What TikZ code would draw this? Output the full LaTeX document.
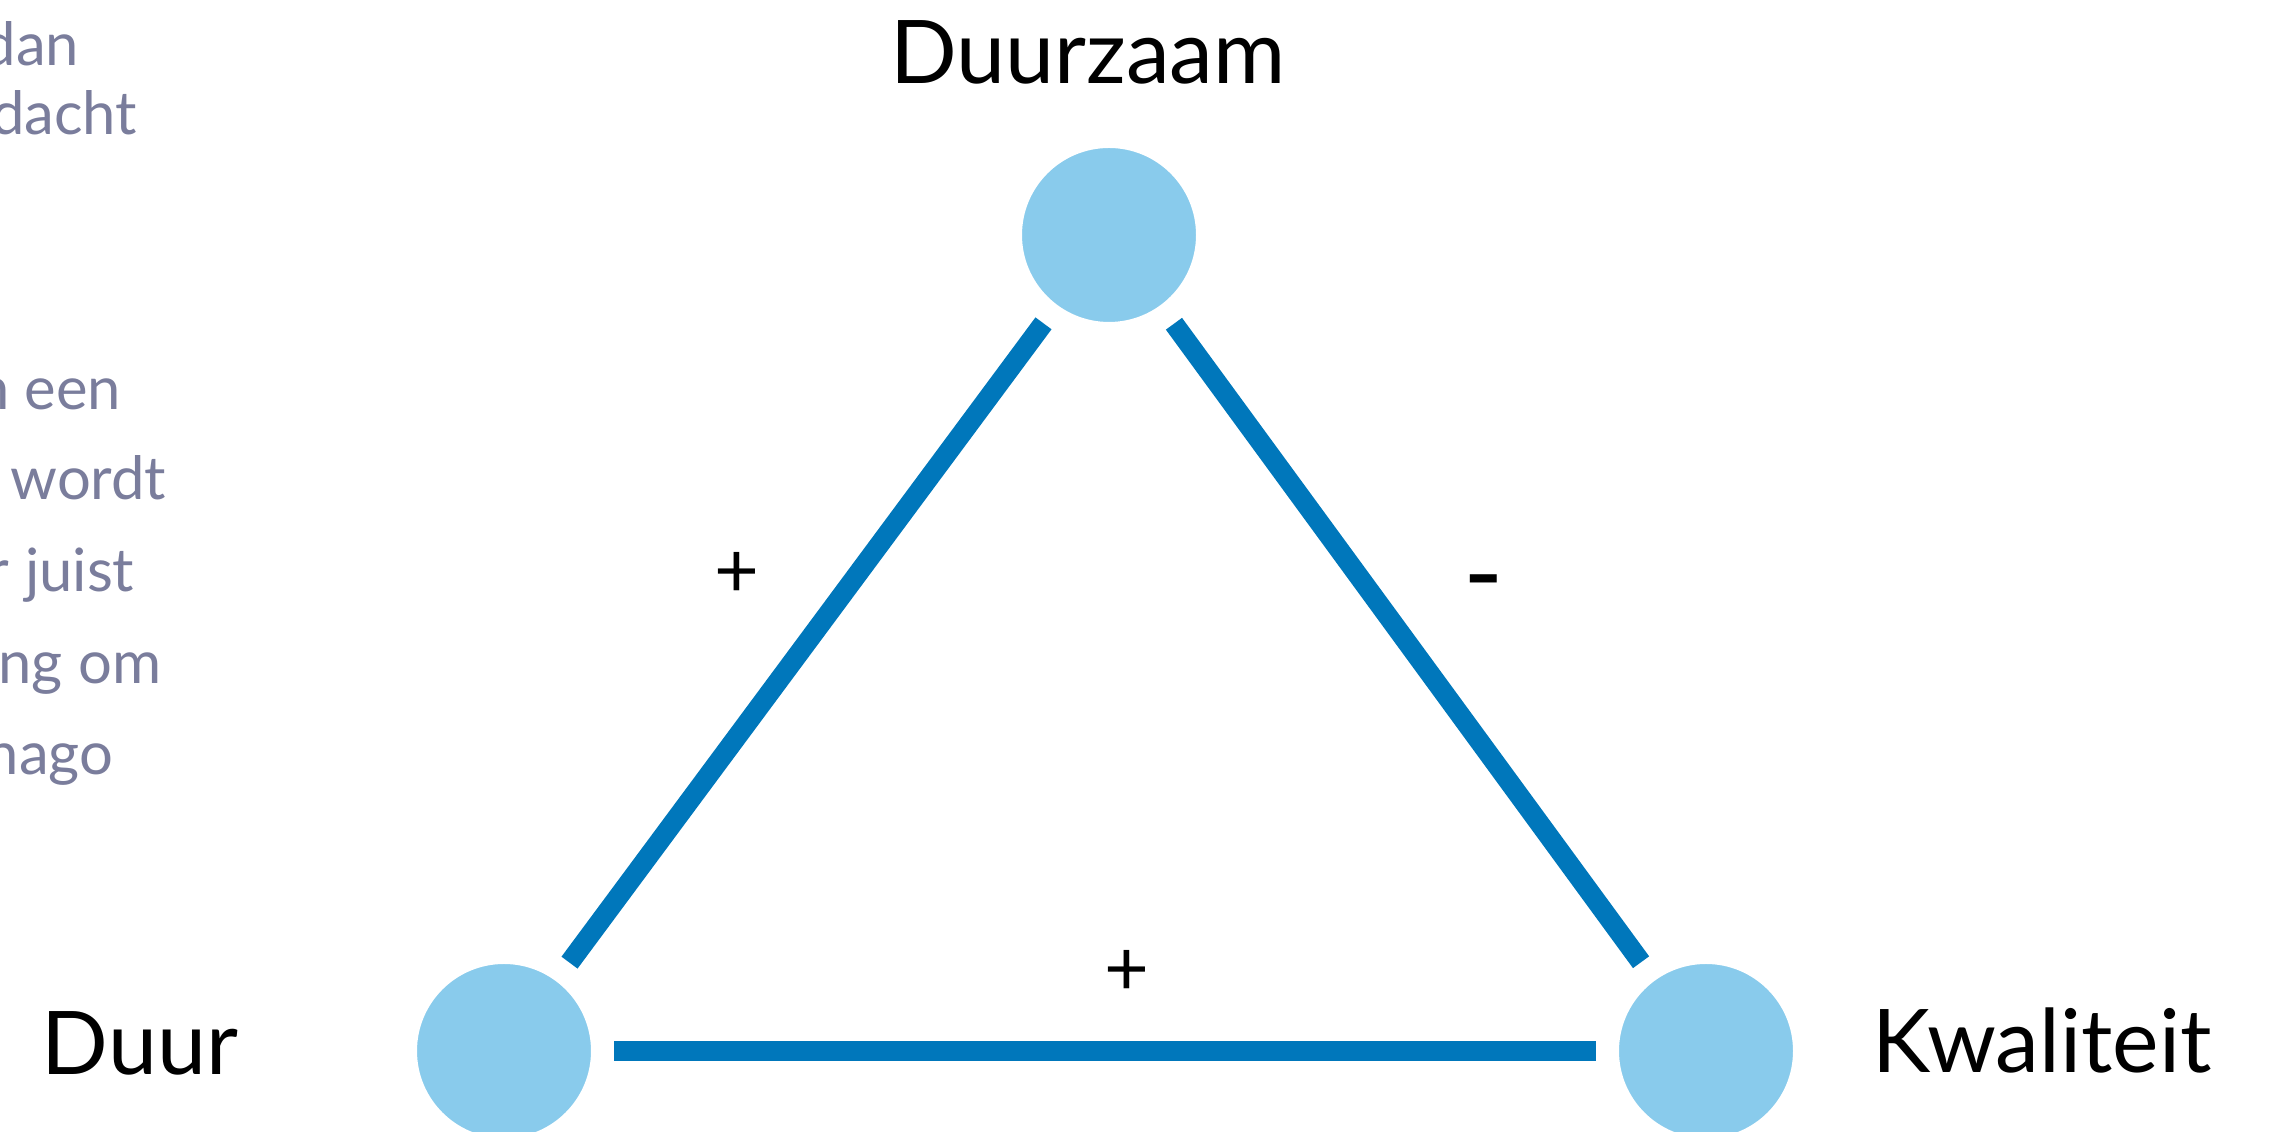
\documentclass[tikz,border=0pt]{standalone}
\usepackage{fontspec}
\setmainfont{Lato}
\usetikzlibrary{positioning, calc}

\definecolor{dotblue}{RGB}{137,203,236}
\definecolor{edgeblue}{RGB}{0,119,187}
\definecolor{sidegrey}{RGB}{122,125,156}

\tikzset{
  dot/.style={circle, fill=dotblue, draw=white, line width=0.23cm, minimum size=1.97cm, inner sep=0pt},
  edge/.style={edgeblue, line width=0.2cm},
  corner/.style={font=\fontsize{25}{30}\selectfont},
  sign/.style={font=\fontsize{22}{26}\selectfont},
  sidetext/.style={sidegrey, anchor=base east, inner sep=0pt, font=\fontsize{17}{20}\selectfont}
}

\begin{document}
\begin{tikzpicture}

\useasboundingbox (0, 0) rectangle (22.71, 11.32);
\clip (0, 0) rectangle (22.71, 11.32);

% text running in from the left
\node [sidetext] (s1) at (0.80, 10.66) {dan};
\node [sidetext] (s2) at (1.38, 9.97) {dacht};
\node [sidetext] (s3) at (1.22, 7.22) {n een};
\node [sidetext] (s4) at (1.67, 6.32) {wordt};
\node [sidetext] (s5) at (1.35, 5.40) {r juist};
\node [sidetext] (s6) at (1.62, 4.48) {ng om};
\node [sidetext] (s7) at (1.14, 3.57) {nago};

% the three corners
\node [dot] (duurzaam) at (11.09, 8.97) {};
\node [dot] (duur) at (5.04, 0.81) {};
\node [dot] (kwaliteit) at (17.06, 0.81) {};

\node [corner] (duurzaamlabel) at (10.88, 10.80) {Duurzaam};
\node [corner] (duurlabel) at (1.40, 0.89) {Duur};
\node [corner] (kwaliteitlabel) at (20.42, 0.91) {Kwaliteit};

\draw [edge] (duurzaam) -- (duur);
\draw [edge] (duurzaam) -- (kwaliteit);
\draw [edge] (duur) -- (kwaliteit);

\node [sign] (plusleft) at (7.37, 5.57) {+};
\node [sign, font=\fontsize{31}{36}\selectfont] (minright) at (14.84, 5.39) {-};
\node [sign] (plusbottom) at (11.27, 1.59) {+};

\end{tikzpicture}
\end{document}
